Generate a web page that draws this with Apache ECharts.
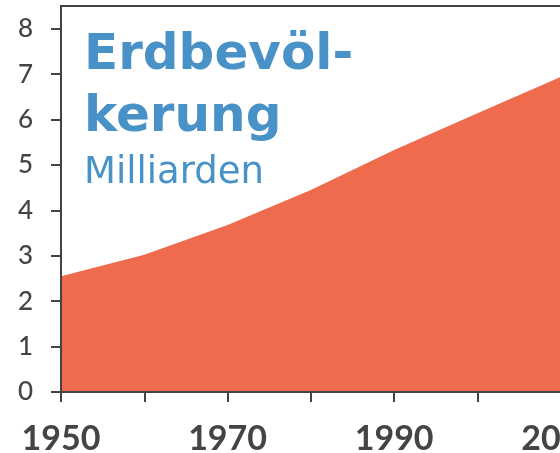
<!DOCTYPE html>
<html>
<head>
<meta charset="utf-8">
<script src="https://cdn.jsdelivr.net/npm/echarts@6/dist/echarts.min.js"></script>
<style>
  html, body { margin: 0; padding: 0; background: #fff; }
  #main { width: 560px; height: 453px; }
</style>
</head>
<body>
<div id="main"></div>
<script>
var chart = echarts.init(document.getElementById('main'));

// Weltbevölkerung in Milliarden
var years = [1950, 1960, 1970, 1980, 1990, 2000, 2010, 2020];
var population = [2.55, 3.02, 3.68, 4.45, 5.33, 6.14, 6.94, 7.79];
var yTicks = [0, 1, 2, 3, 4, 5, 6, 7, 8];
var xTicks = [1950, 1960, 1970, 1980, 1990, 2000, 2010, 2020];
var xLabels = [1950, 1970, 1990, 2010];

var AXIS = '#444444';
var BLUE = '#4892c8';
var ORANGE = '#ee6c4d';

var data = years.map(function (y, i) { return [y, population[i]]; });

var option = {
    animation: false,
    title: {
        text: 'Erdbevöl-\nkerung',
        subtext: 'Milliarden',
        left: 84,
        top: 25,
        padding: 0,
        itemGap: 6,
        textStyle: {
            fontFamily: 'DejaVu Sans',
            fontWeight: 'bold',
            fontSize: 50,
            lineHeight: 62,
            color: BLUE
        },
        subtextStyle: {
            fontFamily: 'DejaVu Sans',
            fontSize: 37,
            lineHeight: 37,
            color: BLUE
        }
    },
    grid: {
        left: 61,
        top: 6,
        bottom: 61,
        right: -84,
        containLabel: false,
        outerBoundsMode: 'none',
        show: true,
        borderColor: AXIS,
        borderWidth: 2,
        backgroundColor: 'transparent'
    },
    xAxis: {
        type: 'value',
        min: 1950,
        max: 2020,
        interval: 10,
        z: 5,
        splitLine: { show: false },
        axisLine: { lineStyle: { color: AXIS, width: 2 } },
        axisTick: { show: true, length: 10, customValues: xTicks, lineStyle: { color: AXIS, width: 2 } },
        axisLabel: {
            margin: 30,
            color: AXIS,
            fontFamily: 'Lato',
            fontWeight: 'bold',
            fontSize: 34,
            hideOverlap: false,
            customValues: xLabels,
            formatter: function (v) { return String(v); }
        }
    },
    yAxis: {
        type: 'value',
        min: 0,
        max: 8.5,
        z: 5,
        splitLine: { show: false },
        axisLine: { show: true, lineStyle: { color: AXIS, width: 2 } },
        axisTick: { show: true, length: 10, customValues: yTicks, lineStyle: { color: AXIS, width: 2 } },
        axisLabel: {
            margin: 28,
            color: AXIS,
            fontFamily: 'Lato',
            fontWeight: 500,
            fontSize: 26,
            customValues: yTicks
        }
    },
    series: [{
        type: 'line',
        data: data,
        showSymbol: false,
        lineStyle: { width: 0 },
        areaStyle: { color: ORANGE, opacity: 1 },
        z: 2
    }]
};

chart.setOption(option);
</script>
</body>
</html>
